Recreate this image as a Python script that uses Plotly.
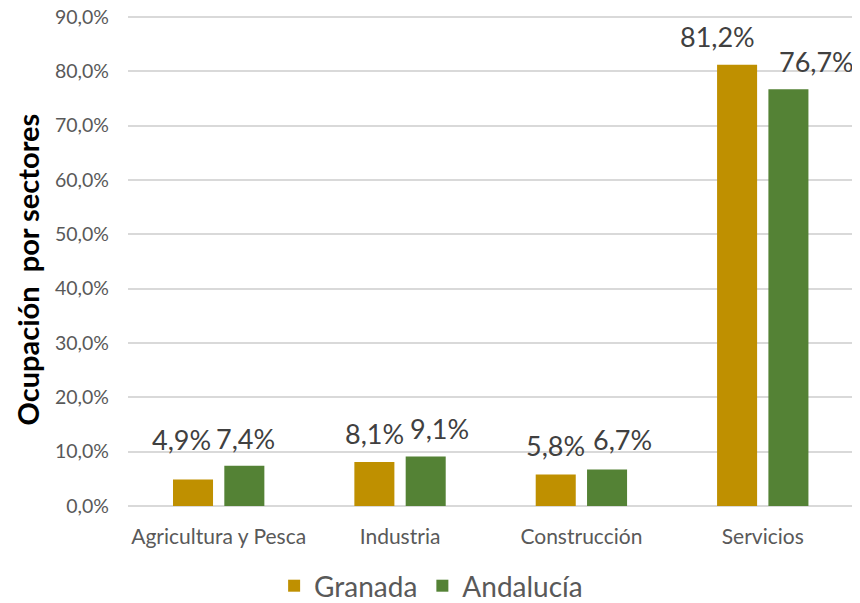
import plotly.graph_objects as go

categories = ["Agricultura y Pesca", "Industria", "Construcción", "Servicios"]
granada = [4.9, 8.1, 5.8, 81.2]
andalucia = [7.4, 9.1, 6.7, 76.7]
tick_vals = [0, 10, 20, 30, 40, 50, 60, 70, 80, 90]

# label placement offsets (pixels) relative to bar centre / bar top
granada_label_dx = [-11, 0, 0, -20]
granada_label_dy = [40, 28, 29, 28]
andalucia_label_dx = [1, 14, 15, 28]
andalucia_label_dy = [27, 28, 30, 28]

FONT = "Lato"
c_gran = "#BF9000"
c_anda = "#548235"

def fmt(v):
    return f"{v:.1f}".replace(".", ",") + "%"

tick_text = [fmt(v) for v in tick_vals]

fig = go.Figure()
fig.add_trace(go.Bar(name="Granada", x=categories, y=granada, marker_color=c_gran,
                     marker_line_width=0))
fig.add_trace(go.Bar(name="Andalucía", x=categories, y=andalucia, marker_color=c_anda,
                     marker_line_width=0))

half = 25.75
for vals, base, dxs, dys in [(granada, -half, granada_label_dx, granada_label_dy),
                             (andalucia, half, andalucia_label_dx, andalucia_label_dy)]:
    for c, v, dx, dy in zip(categories, vals, dxs, dys):
        fig.add_annotation(x=c, y=v, xshift=base + dx, yshift=dy, yanchor="middle",
                           text=fmt(v), showarrow=False,
                           font=dict(family=FONT, size=27, color="#404040"))

# y-axis title as a rotated annotation
fig.add_annotation(xref="paper", yref="paper", x=0, y=0.5, xshift=-101, yshift=-9,
                   xanchor="center", yanchor="middle", textangle=-90,
                   text="<b>Ocupación  por sectores</b>", showarrow=False,
                   font=dict(family=FONT, size=29, color="#000000"))

fig.update_layout(
    width=860, height=603,
    margin=dict(l=120, r=12, t=7, b=105),
    plot_bgcolor="white", paper_bgcolor="white",
    barmode="group", bargap=0.434, bargroupgap=0.22,
    font=dict(family=FONT, color="#595959"),
    showlegend=True,
    legend=dict(orientation="h", xref="container", x=0.492, xanchor="center",
                yref="container", y=0.0, yanchor="bottom",
                font=dict(family=FONT, size=28, color="#595959"),
                itemsizing="constant", itemwidth=30),
    xaxis=dict(tickfont=dict(family=FONT, size=21, color="#595959"),
               showline=False, ticks="", ticklabelstandoff=16, automargin=False),
    yaxis=dict(range=[0, 90.37], tickvals=tick_vals, ticktext=tick_text,
               tickfont=dict(family=FONT, size=19.5, color="#595959"),
               gridcolor="#D9D9D9", gridwidth=1.5, zeroline=True,
               zerolinecolor="#D9D9D9", zerolinewidth=1.5, showline=False,
               ticks="", ticklabelstandoff=18, automargin=False,
               ticklabeloverflow="allow"),
)

fig.write_html("out.html")
